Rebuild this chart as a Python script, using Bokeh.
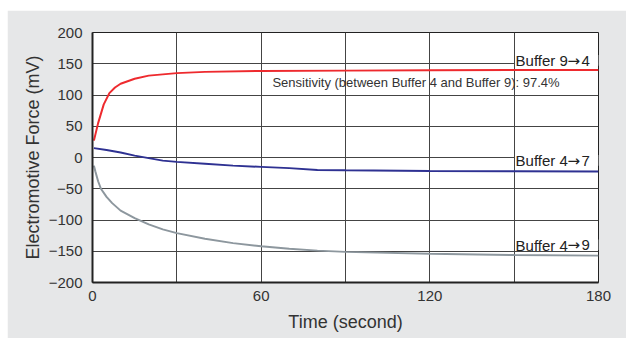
from bokeh.plotting import figure
from bokeh.models import Label, FixedTicker, Range1d, BoxAnnotation
from bokeh.embed import file_html
from bokeh.resources import INLINE

# Data
t_red = [0.5, 2, 4, 6, 8, 10, 15, 20, 30, 40, 60, 90, 120, 150, 180]
v_red = [27, 55, 85, 103, 112, 118, 126, 131, 135, 137, 138.5, 139, 139.5, 140, 140]

t_blue = [0.5, 5, 10, 15, 20, 25, 30, 40, 50, 60, 70, 80, 90, 120, 150, 180]
v_blue = [15, 12, 8, 3, -1, -5, -7, -10, -13, -15, -17, -20, -20.5, -21.5, -22, -22.5]

t_gray = [0.5, 1, 2, 3, 5, 7, 10, 15, 20, 25, 30, 40, 50, 60, 70, 80, 90, 120, 150, 180]
v_gray = [-13, -22, -38, -50, -63, -73, -85, -97, -107, -115, -121, -130, -137, -142, -146, -149, -151, -154, -156, -157]

series_names = ["Buffer 9→4", "Buffer 4→7", "Buffer 4→9"]
x_ticks = [0, 60, 120, 180]
x_grid = [30, 60, 90, 120, 150]
y_ticks = [-200, -150, -100, -50, 0, 50, 100, 150, 200]
note = "Sensitivity (between Buffer 4 and Buffer 9): 97.4%"

FONT = "Liberation Sans"
TXT = "#333333"

p = figure(width=619, height=328, output_backend="svg", toolbar_location=None,
           x_range=Range1d(0, 180), y_range=Range1d(-200, 200),
           min_border_left=85, min_border_right=28, min_border_top=22, min_border_bottom=56)
p.margin = (10, 3, 2, 7)

p.border_fill_color = "#e6e7e8"
p.background_fill_color = "white"
p.outline_line_color = "#222222"
p.outline_line_width = 1

p.xaxis.ticker = FixedTicker(ticks=x_ticks)
p.yaxis.ticker = FixedTicker(ticks=y_ticks)
p.xgrid.ticker = FixedTicker(ticks=x_grid)
p.ygrid.ticker = FixedTicker(ticks=y_ticks[1:-1])

for g in (p.xgrid, p.ygrid):
    g.grid_line_color = "#444444"
    g.grid_line_width = 1
    g.grid_line_alpha = 1

for ax in (p.xaxis, p.yaxis):
    ax.axis_line_color = "#222222"
    ax.axis_line_width = 2
    ax.major_tick_line_color = None
    ax.minor_tick_line_color = None
    ax.major_tick_out = 0
    ax.major_tick_in = 0
    ax.major_label_text_font = FONT
    ax.major_label_text_font_size = "15px"
    ax.major_label_text_color = TXT
    ax.axis_label_text_font = FONT
    ax.axis_label_text_font_size = "18px"
    ax.axis_label_text_font_style = "normal"
    ax.axis_label_text_color = TXT

p.yaxis.major_label_standoff = 10
p.xaxis.major_label_standoff = 8
p.yaxis.axis_label = "Electromotive Force (mV)"
p.xaxis.axis_label = "Time (second)"
p.yaxis.axis_label_standoff = 3
p.xaxis.axis_label_standoff = 8

p.line(t_gray, v_gray, line_color="#8d979e", line_width=2)
p.line(t_blue, v_blue, line_color="#2e3192", line_width=2)
p.line(t_red, v_red, line_color="#ee2a2e", line_width=2)

# series labels: white box, then text pieces (arrow drawn in DejaVu Sans)
label_y = [155, -5, -140]
for name, ly in zip(series_names, label_y):
    p.add_layout(BoxAnnotation(left=150.3, right=180, bottom=ly - 8, top=ly + 9,
                               fill_color="white", fill_alpha=1, line_color=None))
    pre, post = name.split("→")
    common = dict(y=ly, x=150.5, text_font_size="15px", text_color="#222222",
                  text_baseline="middle")
    p.add_layout(Label(text=pre, text_font=FONT, **common))
    p.add_layout(Label(text="→", text_font="DejaVu Sans", x_offset=52, **common))
    p.add_layout(Label(text=post, text_font=FONT, x_offset=66, **common))

p.add_layout(Label(x=64, y=120, text=note, text_font=FONT, text_font_size="13px",
                   text_color=TXT, text_baseline="middle"))

open("out.html", "w").write(file_html(p, INLINE))
